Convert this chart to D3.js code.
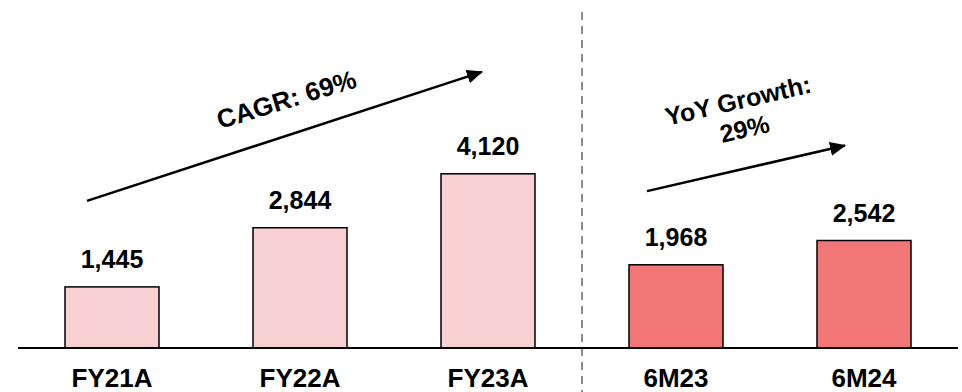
<!DOCTYPE html>
<html>
<head>
<meta charset="utf-8">
<script src="https://cdn.jsdelivr.net/npm/d3@7"></script>
<style>
  body { margin: 0; background: #fff; }
  svg { display: block; }
  text { font-family: "Liberation Sans", Arial, sans-serif; font-weight: bold; }
</style>
</head>
<body>
<svg width="962" height="392"></svg>
<script>
// chart values
const categories = ["FY21A", "FY22A", "FY23A", "6M23", "6M24"];
const values = [1445, 2844, 4120, 1968, 2542];
const periodType = ["annual", "annual", "annual", "half", "half"];
const valueLabels = ["1,445", "2,844", "4,120", "1,968", "2,542"];

// growth arrows: [category, offset px, value] pairs
const cagrArrow = [["FY21A", -25, 3480], ["FY23A", -6, 6530]];
const yoyArrow = [["6M23", -29, 3710], ["6M24", -19, 4790]];

const width = 962, height = 392;
const baseY = 348;

const svg = d3.select("svg");

const x = d3.scaleBand()
    .domain(categories)
    .range([18, 958])
    .paddingInner(0.5)
    .paddingOuter(0.25);

const y = d3.scaleLinear().domain([0, 8230]).range([baseY, 0]);

const color = d3.scaleOrdinal()
    .domain(["annual", "half"])
    .range(["#f9d0d1", "#f27676"]);

const cx = c => x(c) + x.bandwidth() / 2;

// divider between FY and half-year
const midX = (cx("FY23A") + cx("6M23")) / 2;
svg.append("line")
   .attr("x1", midX).attr("x2", midX)
   .attr("y1", 12).attr("y2", height)
   .attr("stroke", "#8c8c8c").attr("stroke-width", 2)
   .attr("stroke-dasharray", "8,6");

// bars
svg.selectAll("rect.bar")
   .data(categories)
   .enter()
   .append("rect")
   .attr("class", "bar")
   .attr("x", d => x(d))
   .attr("width", x.bandwidth())
   .attr("y", (d, i) => y(values[i]))
   .attr("height", (d, i) => baseY - y(values[i]))
   .attr("fill", (d, i) => color(periodType[i]))
   .attr("stroke", "#000").attr("stroke-width", 1.5);

// baseline
svg.append("line")
   .attr("x1", x.range()[0]).attr("x2", x.range()[1])
   .attr("y1", baseY).attr("y2", baseY)
   .attr("stroke", "#000").attr("stroke-width", 2);

// value labels
svg.selectAll("text.val")
   .data(categories)
   .enter()
   .append("text")
   .attr("class", "val")
   .attr("x", d => cx(d))
   .attr("y", (d, i) => y(values[i]) - 19)
   .attr("text-anchor", "middle")
   .attr("font-size", 25)
   .text((d, i) => valueLabels[i]);

// category labels (the reference crops them at the bottom edge too)
svg.selectAll("text.cat")
   .data(categories)
   .enter()
   .append("text")
   .attr("class", "cat")
   .attr("x", d => cx(d))
   .attr("y", 387)
   .attr("text-anchor", "middle")
   .attr("font-size", 26)
   .text(d => d);

// arrows
svg.append("defs").append("marker")
   .attr("id", "head")
   .attr("viewBox", "0 0 16 14")
   .attr("refX", 15).attr("refY", 7)
   .attr("markerWidth", 16).attr("markerHeight", 14)
   .attr("markerUnits", "userSpaceOnUse")
   .attr("orient", "auto")
   .append("path")
   .attr("d", "M0,0 L16,7 L0,14 Z")
   .attr("fill", "#000");

function arrow(pts) {
    const p = pts.map(([c, off, v]) => [cx(c) + off, y(v)]);
    svg.append("line")
       .attr("x1", p[0][0]).attr("y1", p[0][1])
       .attr("x2", p[1][0]).attr("y2", p[1][1])
       .attr("stroke", "#000").attr("stroke-width", 2.5)
       .attr("marker-end", "url(#head)");
    return p;
}
arrow(cagrArrow);
arrow(yoyArrow);

svg.append("text")
   .attr("transform", "translate(" + 289 + "," + 108 + ") rotate(-17)")
   .attr("text-anchor", "middle")
   .attr("font-size", 26)
   .text("CAGR: 69%");

const yoy = svg.append("text")
   .attr("transform", "translate(" + 740 + "," + 109 + ") rotate(-13)")
   .attr("text-anchor", "middle")
   .attr("font-size", 25);
yoy.append("tspan").attr("x", 0).attr("dy", 0).text("YoY Growth:");
yoy.append("tspan").attr("x", 0).attr("dy", 29).text("29%");
</script>
</body>
</html>
